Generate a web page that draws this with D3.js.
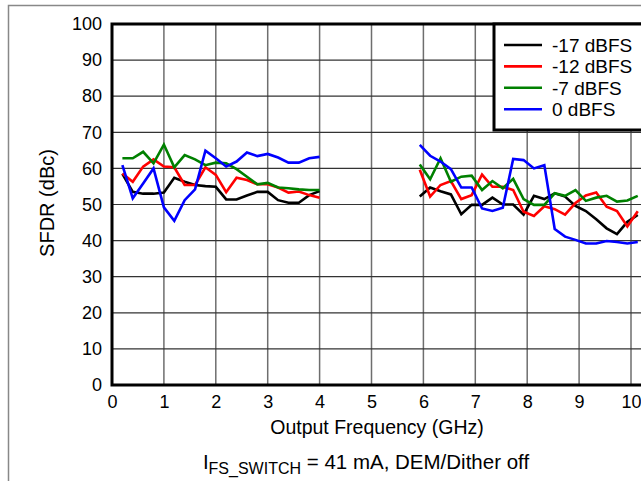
<!DOCTYPE html>
<html>
<head>
<meta charset="utf-8">
<script src="https://cdn.jsdelivr.net/npm/d3@7"></script>
<style>
  body { margin: 0; background: #fff; }
  svg { display: block; font-family: "Liberation Sans", Arial, sans-serif; }
</style>
</head>
<body>
<div class="sfdr_chart"></div>
<script>
// frequency points (GHz), two measured bands
var freqLow = [0.2, 0.4, 0.6, 0.8, 1.0, 1.2, 1.4, 1.6, 1.8, 2.0,
  2.2, 2.4, 2.6, 2.8, 3.0, 3.2, 3.4, 3.6, 3.8, 4.0];
var freqHigh = [5.93, 6.13, 6.33, 6.53, 6.73, 6.93, 7.13, 7.33, 7.53, 7.73, 7.93,
  8.13, 8.33, 8.53, 8.73, 8.93, 9.13, 9.33, 9.53, 9.73, 9.93, 10.13];

var seriesNames = ["-17 dBFS", "-12 dBFS", "-7 dBFS", "0 dBFS"];

// SFDR (dBc), low band
var m17Low = [58.5, 53.5, 53, 53, 53.3, 57.4, 56.3, 55.4, 55.1, 54.9,
  51.4, 51.4, 52.5, 53.5, 53.5, 51.2, 50.5, 50.5, 52.6, 53.7];
var m12Low = [58.6, 56.3, 60.5, 62.5, 60.5, 60.3, 55.4, 55.4, 60.3, 58.2,
  53.4, 57.4, 56.8, 55.6, 55.6, 54.7, 53.3, 53.6, 52.6, 51.9];
var m7Low = [62.8, 62.8, 64.6, 61.4, 66.6, 60.3, 63.7, 62.5, 60.9, 61.6,
  61.4, 59.8, 57.7, 55.6, 56.0, 54.7, 54.5, 54.2, 54.0, 54.0];
var zeroLow = [60.9, 51.7, 55.8, 60.0, 49.2, 45.5, 51.2, 54.2, 64.9, 62.8,
  60.5, 61.9, 64.4, 63.4, 64.0, 63.0, 61.6, 61.6, 62.8, 63.2];

// SFDR (dBc), high band
var m17High = [52.2, 54.7, 53.7, 52.8, 47.3, 49.9, 49.9, 51.9, 50.0, 50.0, 47.2,
  52.4, 51.5, 53.1, 52.2, 49.6, 48.2, 45.9, 43.4, 41.8, 45.2, 47.1];
var m12High = [59.6, 52.2, 55.4, 56.5, 51.5, 52.6, 58.3, 54.9, 54.9, 54.0, 48.0,
  46.8, 49.5, 48.7, 47.2, 50.4, 52.5, 53.3, 49.4, 48.2, 43.9, 48.1];
var m7High = [61.1, 57.0, 62.8, 56.3, 57.7, 58.0, 54.0, 56.5, 54.5, 57.1, 51.5,
  49.9, 49.9, 53.1, 52.4, 54.0, 51.0, 51.9, 52.4, 50.8, 51.1, 52.4];
var zeroHigh = [66.5, 63.5, 61.9, 59.8, 54.7, 54.7, 48.9, 48.2, 49.1, 62.6, 62.3,
  60.0, 60.9, 43.2, 41.1, 40.2, 39.2, 39.2, 39.9, 39.6, 39.2, 39.6];

var xTicks = [0, 1, 2, 3, 4, 5, 6, 7, 8, 9, 10];
var yTicks = [0, 10, 20, 30, 40, 50, 60, 70, 80, 90, 100];

var colors = ["#000000", "#ff0000", "#008000", "#0000ff"];

var lowSets = [m17Low, m12Low, m7Low, zeroLow];
var highSets = [m17High, m12High, m7High, zeroHigh];

var width = 641, height = 481;
var margin = { top: 24, left: 112, bottom: 385 };

var svg = d3
  .select(".sfdr_chart")
  .append("svg")
  .attr("width", width)
  .attr("height", height);

// outer frame of the figure
svg
  .append("rect")
  .attr("x", 8.5)
  .attr("y", 5.5)
  .attr("width", 700)
  .attr("height", 600)
  .attr("fill", "none")
  .attr("stroke", "#888")
  .attr("stroke-width", 1.5);

var x = d3.scaleLinear().domain([0, 11]).range([margin.left, margin.left + 11 * 51.9]);
var y = d3.scaleLinear().domain([0, 100]).range([margin.bottom, margin.top]);

// grid
svg
  .append("g")
  .attr("class", "grid x")
  .selectAll("line")
  .data(xTicks.slice(1))
  .enter()
  .append("line")
  .attr("x1", function (d) { return x(d); })
  .attr("x2", function (d) { return x(d); })
  .attr("y1", y(0))
  .attr("y2", y(100))
  .style("stroke", "#6e6e6e")
  .style("stroke-width", 1.5);

svg
  .append("g")
  .attr("class", "grid y")
  .selectAll("line")
  .data(yTicks.slice(1, -1))
  .enter()
  .append("line")
  .attr("x1", x(0))
  .attr("x2", width + 20)
  .attr("y1", function (d) { return y(d); })
  .attr("y2", function (d) { return y(d); })
  .style("stroke", "#333")
  .style("stroke-width", 1.2);

// series
var line = d3
  .line()
  .x(function (d) { return x(d[0]); })
  .y(function (d) { return y(d[1]); });

var lines = svg.append("g").attr("class", "series");
seriesNames.forEach(function (name, i) {
  [[freqLow, lowSets[i]], [freqHigh, highSets[i]]].forEach(function (band) {
    lines
      .append("path")
      .datum(d3.zip(band[0], band[1]))
      .attr("d", line)
      .attr("fill", "none")
      .attr("stroke", colors[i])
      .attr("stroke-width", 2.6)
      .attr("stroke-linejoin", "miter");
  });
});

// plot frame
svg
  .append("path")
  .attr("d", "M" + (width + 20) + "," + y(100) + "H" + x(0) + "V" + y(0) + "H" + (width + 20))
  .attr("fill", "none")
  .attr("stroke", "#000")
  .attr("stroke-width", 3);

// axes labels
var yAxis = d3.axisLeft(y).tickValues(yTicks).tickSize(0).tickPadding(10);
svg
  .append("g")
  .attr("class", "y axis")
  .attr("transform", "translate(" + x(0) + ",0)")
  .call(yAxis)
  .call(function (g) { g.select(".domain").remove(); });

var xAxis = d3.axisBottom(x).tickValues(xTicks).tickSize(0).tickPadding(10);
svg
  .append("g")
  .attr("class", "x axis")
  .attr("transform", "translate(0," + y(0) + ")")
  .call(xAxis)
  .call(function (g) { g.select(".domain").remove(); });

svg.selectAll(".axis text")
  .attr("font-family", "Liberation Sans, Arial, sans-serif")
  .attr("font-size", "18px")
  .attr("fill", "#000");

svg
  .append("text")
  .attr("x", 377)
  .attr("y", 434)
  .attr("text-anchor", "middle")
  .attr("font-size", "19.5px")
  .text("Output Frequency (GHz)");

svg
  .append("text")
  .attr("transform", "translate(54,203) rotate(-90)")
  .attr("text-anchor", "middle")
  .attr("font-size", "20px")
  .text("SFDR (dBc)");

// caption
var cap = svg
  .append("text")
  .attr("x", 366)
  .attr("y", 469)
  .attr("text-anchor", "middle")
  .attr("font-size", "20.5px");
cap.append("tspan").text("I");
cap.append("tspan").attr("font-size", "16px").attr("dy", 5).text("FS_SWITCH");
cap.append("tspan").attr("dy", -5).text(" = 41 mA, DEM/Dither off");

// legend
var legend = svg.append("g").attr("class", "legend");
legend
  .append("rect")
  .attr("x", 494)
  .attr("y", y(100))
  .attr("width", 300)
  .attr("height", 106)
  .attr("fill", "#fff")
  .attr("stroke", "#000")
  .attr("stroke-width", 3);

var item = legend
  .selectAll(".item")
  .data(seriesNames)
  .enter()
  .append("g")
  .attr("class", "item")
  .attr("transform", function (d, i) { return "translate(504," + (45 + i * 21.4) + ")"; });

item
  .append("line")
  .attr("x1", 0)
  .attr("x2", 38)
  .style("stroke", function (d, i) { return colors[i]; })
  .style("stroke-width", 2.6);

item
  .append("text")
  .attr("x", 48)
  .attr("dy", "0.36em")
  .attr("font-size", "19px")
  .text(function (d) { return d; });
</script>
</body>
</html>
